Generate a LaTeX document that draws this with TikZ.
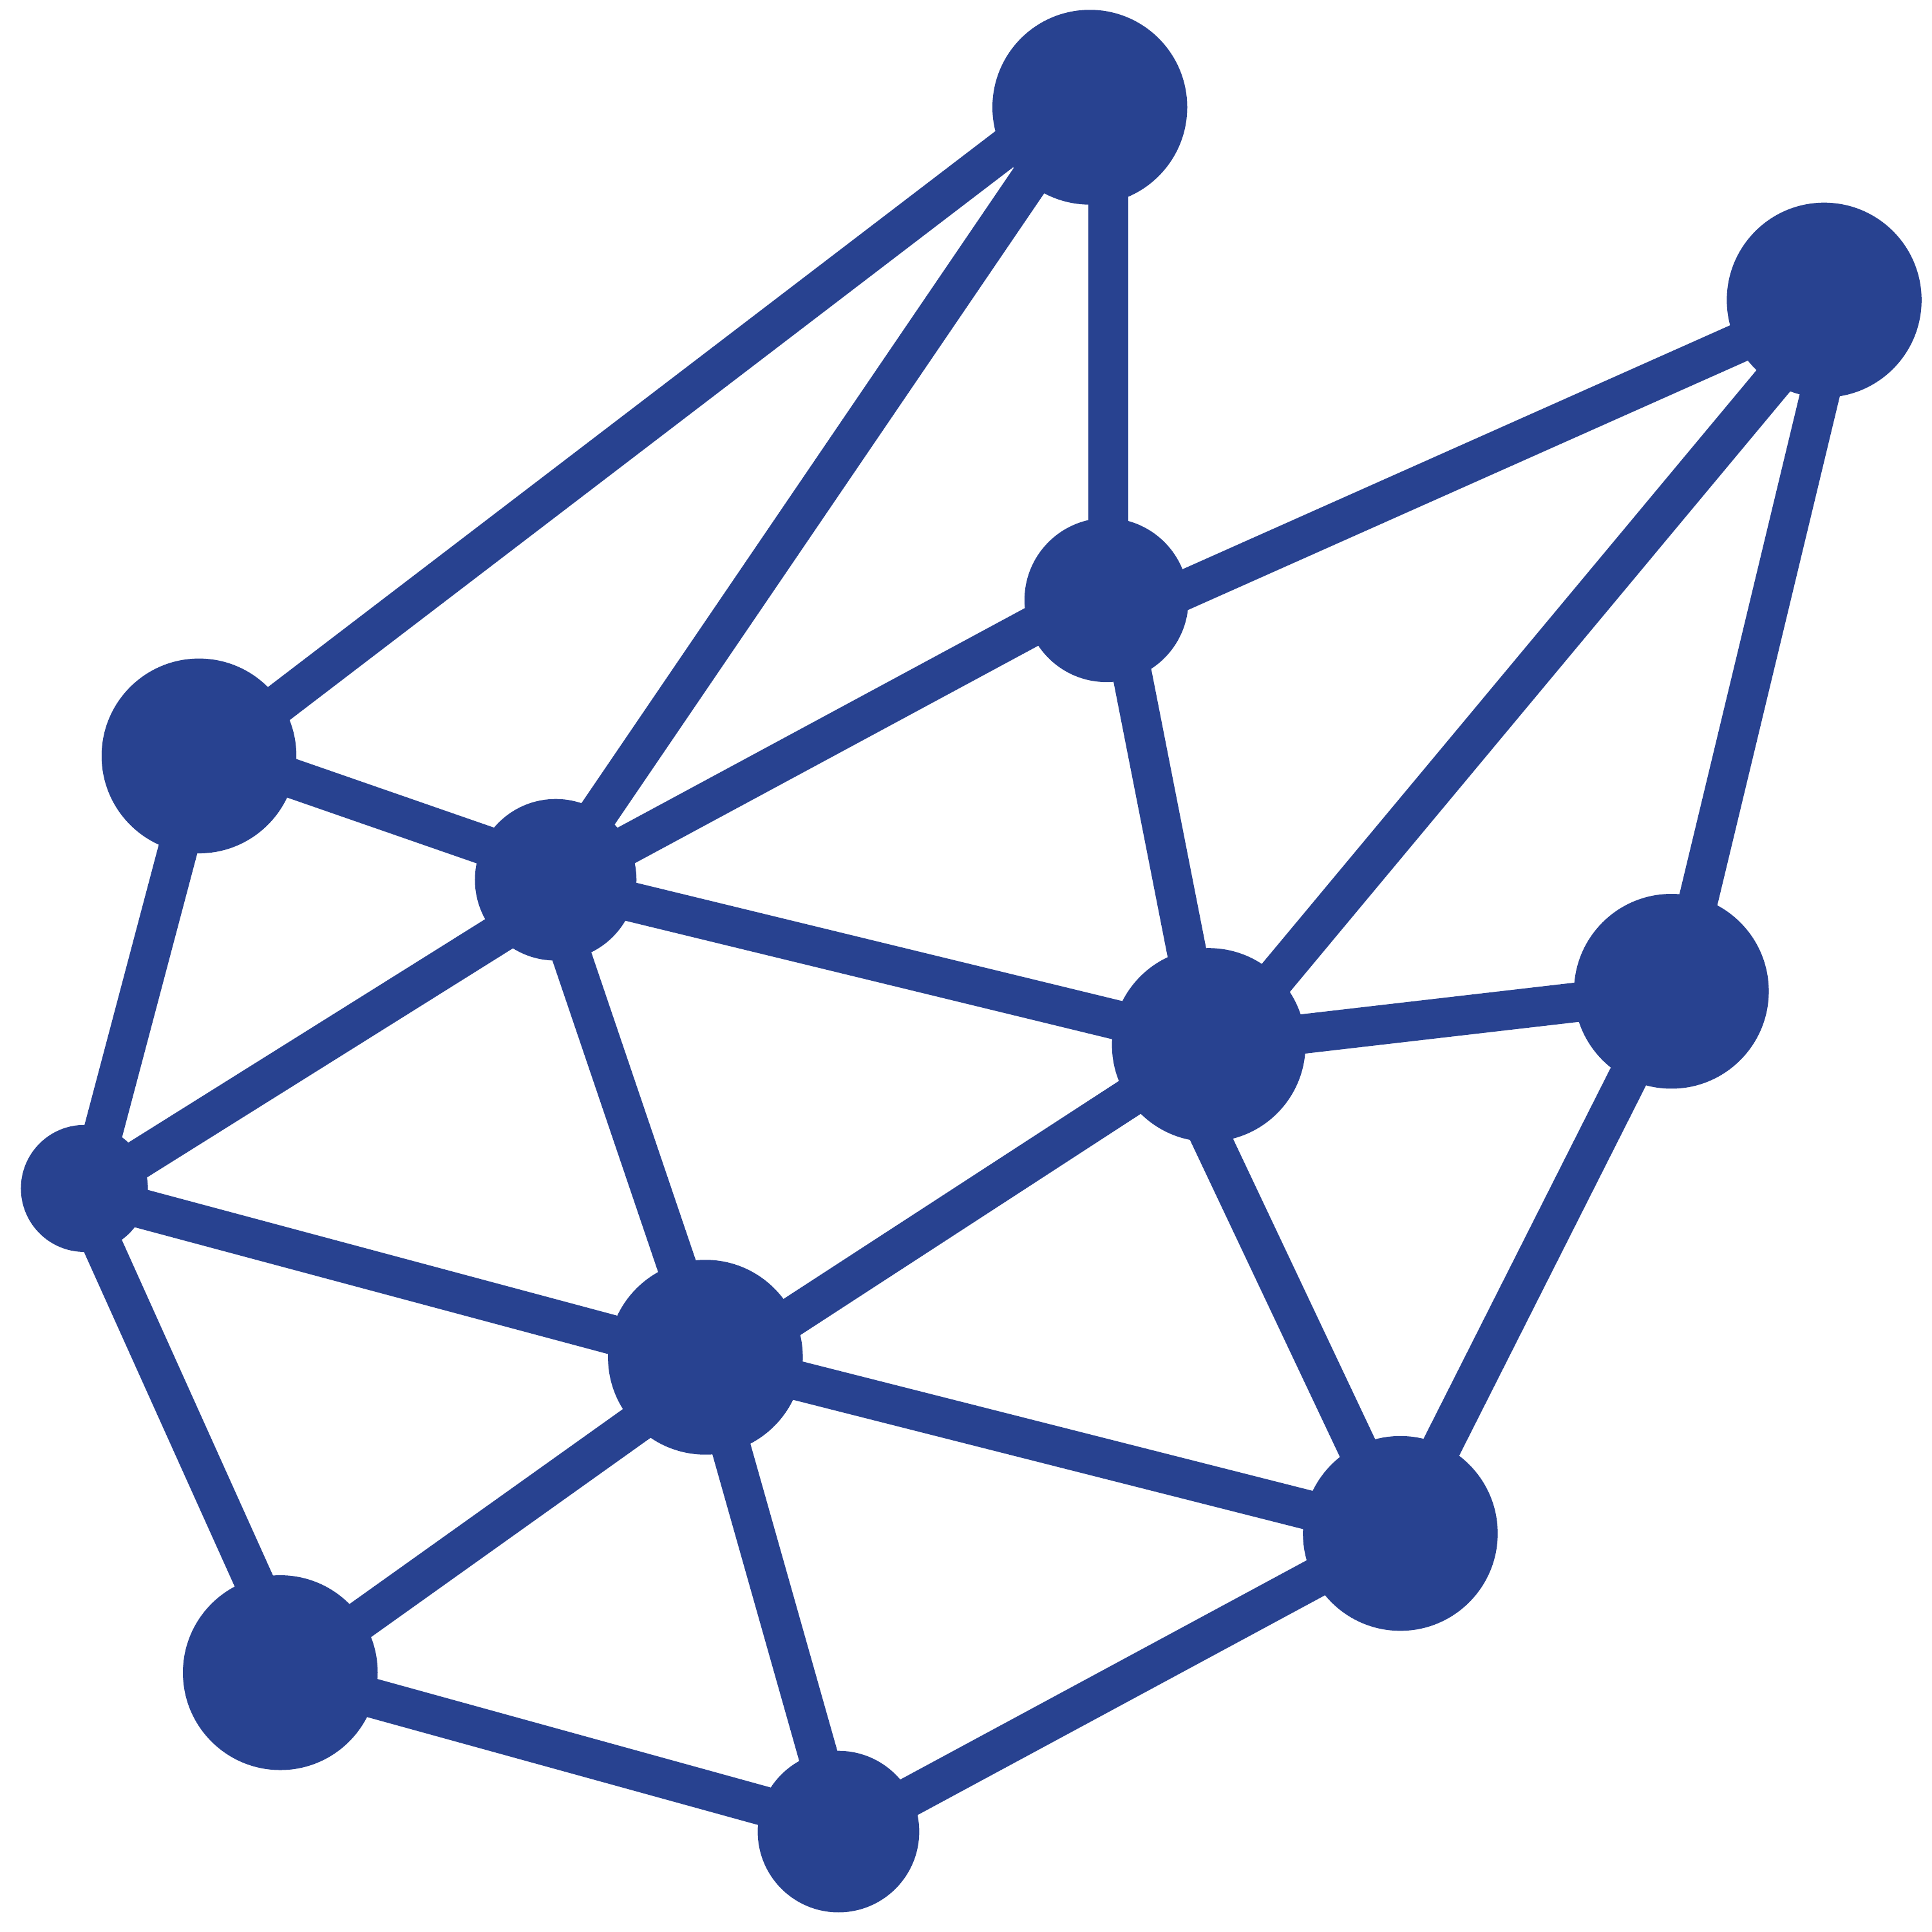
\documentclass[tikz,border=0pt]{standalone}
\definecolor{netblue}{HTML}{284290}
\tikzset{
    hub/.style={circle,fill=netblue,inner sep=0pt,minimum size=#1 cm},
    link/.style={draw=netblue,line width=0.32cm},
}
\begin{document}
\begin{tikzpicture}[x=0.01cm,y=-0.01cm]
    \useasboundingbox (-0.5,-0.5) rectangle (1567.5,1567.5);

    % Hubs
    \node[hub=1.58] (apex) at (884,86.5) {};
    \node[hub=1.58] (corner) at (1480,243) {};
    \node[hub=1.33] (upper) at (897.5,486.5) {};
    \node[hub=1.58] (west) at (161,613) {};
    \node[hub=1.31] (inner) at (450.5,713.5) {};
    \node[hub=1.58] (east) at (1356,804) {};
    \node[hub=1.57] (core) at (980.5,847.5) {};
    \node[hub=1.03] (rim) at (68,964) {};
    \node[hub=1.58] (lower) at (572,1101) {};
    \node[hub=1.58] (south) at (1136,1244) {};
    \node[hub=1.58] (foot) at (227,1357) {};
    \node[hub=1.31] (base) at (680,1486) {};

    % Links
    \draw[link] ([shift={(0,-19)}]apex.center) -- ([shift={(0,7)}]west.center);
    \draw[link] ([shift={(0,-13)}]apex.center) -- ([shift={(0,-3)}]inner.center);
    \draw[link] ([shift={(15,0)}]apex.center) -- ([shift={(1.5,0)}]upper.center);
    \draw[link] ([shift={(0,20)}]upper.center) -- ([shift={(0,4)}]corner.center);
    \draw[link] ([shift={(0,16)}]corner.center) -- ([shift={(0,11)}]core.center);
    \draw[link] ([shift={(15,0)}]corner.center) -- ([shift={(4,0)}]east.center);
    \draw[link] ([shift={(0,-11)}]upper.center) -- ([shift={(0,3)}]inner.center);
    \draw[link] ([shift={(9,0)}]upper.center) -- ([shift={(-3,0)}]core.center);
    \draw[link] ([shift={(0,-8)}]west.center) -- ([shift={(0,-8)}]inner.center);
    \draw[link] ([shift={(3,0)}]west.center) -- ([shift={(3,0)}]rim.center);
    \draw[link] ([shift={(0,15)}]inner.center) -- ([shift={(0,4)}]rim.center);
    \draw[link] ([shift={(0,3)}]inner.center) -- ([shift={(0,-2)}]core.center);
    \draw[link] ([shift={(-8,0)}]inner.center) -- ([shift={(2,0)}]lower.center);
    \draw[link] (core.center) -- (east.center);
    \draw[link] ([shift={(0,1)}]core.center) -- ([shift={(0,13)}]lower.center);
    \draw[link] ([shift={(-34,0)}]core.center) -- ([shift={(-2,0)}]south.center);
    \draw[link] (east.center) -- ([shift={(-2,0)}]south.center);
    \draw[link] ([shift={(0,4)}]rim.center) -- ([shift={(0,2)}]lower.center);
    \draw[link] ([shift={(-6,0)}]rim.center) -- ([shift={(12,0)}]foot.center);
    \draw[link] (lower.center) -- (south.center);
    \draw[link] ([shift={(0,14)}]lower.center) -- ([shift={(0,4)}]foot.center);
    \draw[link] (lower.center) -- ([shift={(1,0)}]base.center);
    \draw[link] (foot.center) -- ([shift={(0,-4)}]base.center);
    \draw[link] ([shift={(0,3)}]base.center) -- ([shift={(0,-1)}]south.center);
\end{tikzpicture}
\end{document}
